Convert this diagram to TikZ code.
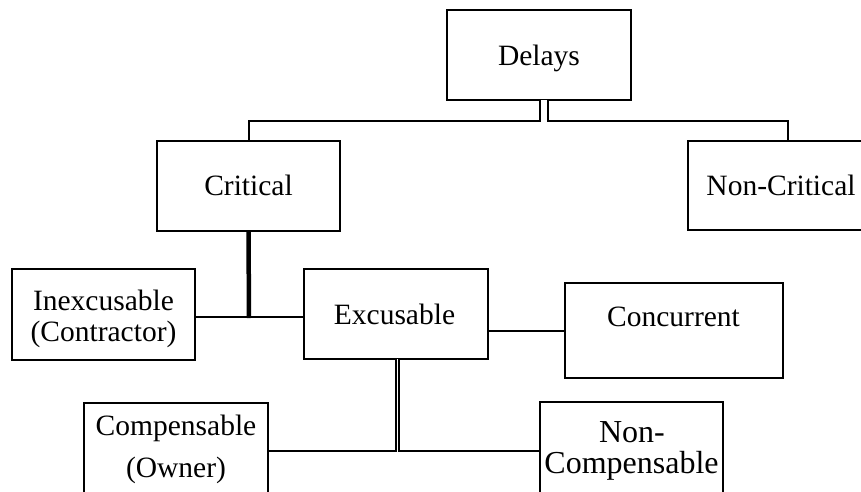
\documentclass[tikz,border=0pt]{standalone}
\usepackage{fontspec}
\setmainfont{Liberation Serif}
\begin{document}
\begin{tikzpicture}[x=1pt,y=-1pt,
  box/.style={draw, line width=2pt, inner sep=0pt, outer sep=0pt},
  lbl/.style={anchor=base, inner sep=0pt, font=\fontsize{29.5}{32}\selectfont},
  biglbl/.style={anchor=base, inner sep=0pt, font=\fontsize{32}{35}\selectfont},
  conn/.style={line width=2pt},
  thickconn/.style={line width=4.5pt},
  dbl/.style={line width=1.8pt, double, double distance=6pt},
  dblthin/.style={line width=1.5pt, double, double distance=1.8pt}]
\useasboundingbox (0,0) rectangle (861,491);
\clip (0,0) rectangle (861,491);
\fill[white] (0,0) rectangle (861,491);
% boxes
\node[box, minimum width=184pt, minimum height=90pt] (delays) at (539,55) {};
\node[box, minimum width=183pt, minimum height=90pt] (critical) at (248.5,186) {};
\node[box, minimum width=200pt, minimum height=89pt] (noncrit) at (788,185.5) {};
\node[box, minimum width=183pt, minimum height=91pt] (inexc) at (103.5,314.5) {};
\node[box, minimum width=184pt, minimum height=90pt] (exc) at (396,314) {};
\node[box, minimum width=218pt, minimum height=95pt] (conc) at (674,330.5) {};
\node[box, minimum width=184pt, minimum height=94pt] (comp) at (176,450) {};
\node[box, minimum width=183pt, minimum height=94pt] (noncomp) at (631.5,449) {};
% labels
\node[lbl] (tdelays) at (539,65) {Delays};
\node[lbl] (tcrit) at (248.5,195) {Critical};
\node[lbl] (tnoncrit) at (781,195) {Non-Critical};
\node[lbl] (tinexc1) at (103.5,310) {Inexcusable};
\node[lbl] (tinexc2) at (103.5,341) {(Contractor)};
\node[lbl] (texc) at (394.5,324) {Excusable};
\node[lbl] (tconc) at (673.5,326) {Concurrent};
\node[lbl] (tcomp1) at (176,435) {Compensable};
\node[lbl] (tcomp2) at (176,477) {(Owner)};
\node[biglbl] (tnoncomp1) at (632,442) {Non-};
\node[biglbl] (tnoncomp2) at (631.5,473) {Compensable};
% junctions
\coordinate (j1) at (544,121);
\coordinate (j2) at (249,317);
\coordinate (j3) at (397.5,451);
% connectors
\draw[conn] (critical.north) -- (critical.north |- j1) -- (noncrit.north |- j1) -- (noncrit.north);
\draw[dbl] (j1 |- delays.south) -- ([yshift=-0.9pt]j1);
\draw[conn] (inexc.east |- j2) -- (exc.west |- j2);
\draw[thickconn] (critical.south) -- ([yshift=-1pt]j2);
\draw[conn] (exc.east |- conc.west) -- (conc.west);
\draw[conn] (comp.east |- j3) -- (noncomp.west |- j3);
\draw[dblthin] (j3 |- exc.south) -- ([yshift=-0.75pt]j3);
\end{tikzpicture}
\end{document}
